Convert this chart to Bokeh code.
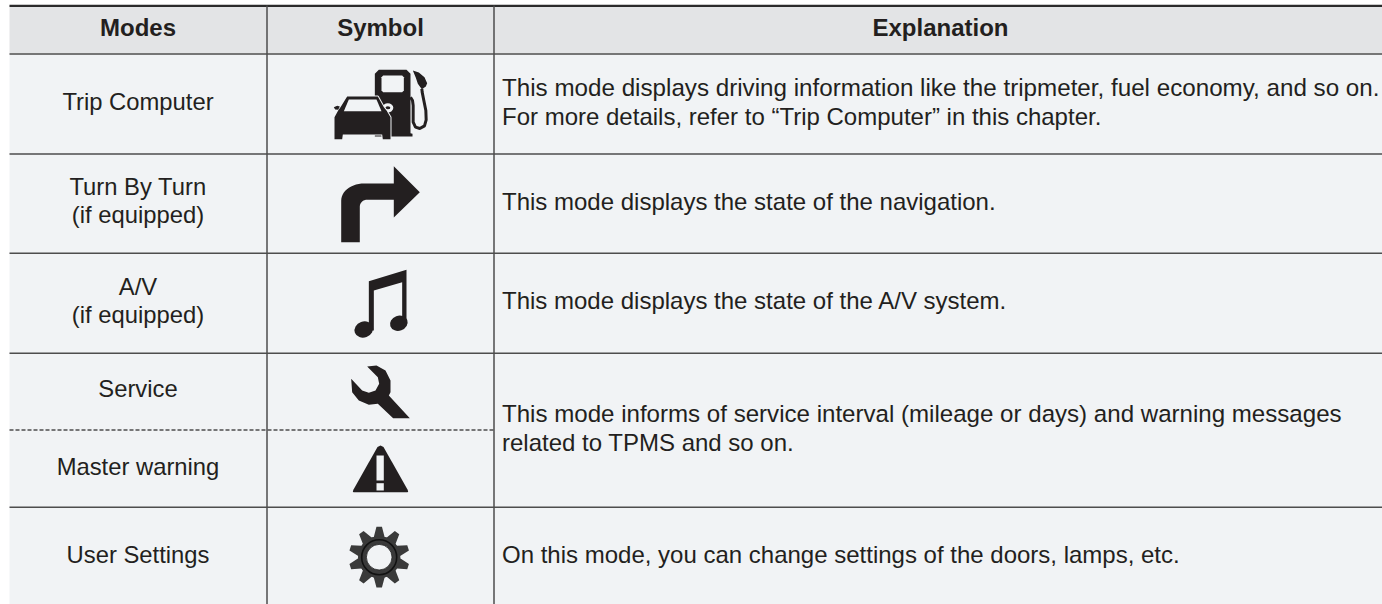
import numpy as np
from bokeh.plotting import figure
from bokeh.models import Range1d
from bokeh.core.properties import value
from bokeh.embed import file_html
from bokeh.resources import INLINE

BODY = "#f1f3f5"
HEAD = "#e3e4e6"
INK = "#231f20"
LINE = "#4d4d4d"
FONT = "Liberation Sans"

headers = ["Modes", "Symbol", "Explanation"]
modes = ["Trip Computer", "Turn By Turn", "(if equipped)", "A/V", "(if equipped)",
         "Service", "Master warning", "User Settings"]
explanations = [
    "This mode displays driving information like the tripmeter, fuel economy, and so on.",
    "For more details, refer to \u201cTrip Computer\u201d in this chapter.",
    "This mode displays the state of the navigation.",
    "This mode displays the state of the A/V system.",
    "This mode informs of service interval (mileage or days) and warning messages",
    "related to TPMS and so on.",
    "On this mode, you can change settings of the doors, lamps, etc.",
]
header_x = [137.5, 380, 940]
header_y = [27] * 3
mode_x = [137.5] * 8
mode_y = [101, 186, 214.3, 286, 314.3, 388.3, 466, 553.7]
expl_y = [87, 116, 201, 300, 412.7, 441.7, 553.7]
expl_size = ["24.2px", "24px", "24px", "24px", "24.1px", "24px", "24px"]

p = figure(width=1382, height=604, output_backend="svg", toolbar_location=None,
           x_range=Range1d(0, 1382), y_range=Range1d(604, 0), min_border=0,
           outline_line_color=None, background_fill_color="white", x_axis_type=None, y_axis_type=None)
p.grid.visible = False

# table background
p.quad(left=9, right=1382, top=5, bottom=53, fill_color=HEAD, line_color=None)
p.quad(left=9, right=1382, top=53, bottom=604, fill_color=BODY, line_color=None)

# rules
p.segment(x0=[9], x1=[493], y0=[429.5], y1=[429.5], line_color=LINE, line_width=1.5, line_dash="4 2")
p.segment(x0=[9], x1=[1382], y0=[5.3], y1=[5.3], line_color="#2b2b2b", line_width=2.2)
p.segment(x0=[9] * 5, x1=[1382] * 5, y0=[53.5, 153.5, 252.8, 352.7, 506.8], y1=[53.5, 153.5, 252.8, 352.7, 506.8],
          line_color=LINE, line_width=1.5)
p.segment(x0=[266.5, 493.5], x1=[266.5, 493.5], y0=[5, 5], y1=[604, 604], line_color=LINE, line_width=1.5)


def z(pts, ox, oy):
    """Zoom-crop coordinates of an icon outline -> page pixels."""
    a = np.array(pts, dtype=float)
    return list(a[:, 0] / 3 + ox), list(a[:, 1] / 3 + oy)


def poly(pts, ox, oy, color=INK, **kw):
    xs, ys = z(pts, ox, oy)
    p.patch(xs, ys, fill_color=color, line_color=kw.pop("line_color", None), **kw)


# --- fuel pump + car
pump = [(223, 40), (235, 28), (318, 28), (330, 40), (330, 218), (336, 220), (336, 228), (223, 228)]
poly(pump, 300, 60)
poly([(243, 50), (248, 45), (305, 45), (310, 50), (310, 90), (305, 95), (248, 95), (243, 90)], 300, 60, BODY)
poly([(337, 30), (355, 36), (372, 50), (380, 68), (376, 78), (364, 86), (352, 70), (346, 52)], 300, 60)
hx, hy = z([(330, 110), (336, 120), (338, 135), (338, 185), (345, 200), (358, 204), (372, 196), (377, 178),
            (376, 150), (370, 120), (365, 95), (364, 85)], 300, 60)
p.line(hx, hy, line_color=INK, line_width=3)
car = [(140, 108), (232, 108), (250, 140), (258, 150), (270, 170), (270, 236), (247, 236), (245, 222), (127, 222),
       (125, 236), (102, 236), (102, 170), (113, 150), (120, 140)]
mx, my = z([(262, 142)], 300, 60)
p.ellipse(mx, my, width=8, height=6, fill_color=BODY, line_color=BODY, line_width=3)
p.ellipse(mx, my, width=5, height=3, fill_color=INK, line_color=None)
poly(car, 300, 60, line_color=BODY, line_width=2)
poly(car, 300, 60)
poly([(145, 117), (228, 117), (243, 152), (130, 152)], 300, 60, BODY)
poly([(100, 140), (110, 136), (118, 138), (113, 148), (104, 147)], 300, 60)

# --- turn arrow
t = np.linspace(0, np.pi / 2, 14)
outer = [(363.7 - 23 * np.cos(a), 200 - 17 * np.sin(a)) for a in t]
inner = [(366.3 - 7 * np.sin(a), 206.3 - 7 * np.cos(a)) for a in t]
ax = [340.7] + [q[0] for q in outer] + [393.3, 393.3, 419.3, 393.3, 393.3] + [q[0] for q in inner] + [359.3]
ay = [241.7] + [q[1] for q in outer] + [183, 165.7, 191.7, 217, 199.3] + [q[1] for q in inner] + [241.7]
p.patch(ax, ay, fill_color=INK, line_color=None)

# --- note
poly([(205, 212), (318, 178), (318, 345), (305, 345), (305, 215), (220, 240), (220, 360), (205, 360)], 300, 210)
p.ellipse([363.3, 398.3], [329, 322.7], width=[19, 18], height=[16, 15], angle=[0.35, 0.35],
          fill_color=INK, line_color=None)

# --- wrench
poly([(200, 78), (228, 75), (255, 90), (270, 120), (270, 155), (265, 165), (328, 233), (278, 233), (232, 190),
      (205, 193), (175, 180), (155, 155), (152, 115), (185, 150), (205, 157), (225, 150), (236, 130), (232, 110)],
     300, 340)

# --- warning triangle
tx = [380, 383, 407, 407.7, 407, 353, 352.3, 353, 377]
ty = [445, 446.5, 489, 491, 491.7, 491.7, 491, 489, 446.5]
p.patch(tx, ty, fill_color=INK, line_color=None)
p.quad(left=[376, 376], right=[383.3, 383.3], top=[455, 482.7], bottom=[480, 490], fill_color=BODY, line_color=None)

# --- gear
n_teeth = 10
gc = (378.7, 556.7)
gx, gy = [], []
for k in range(n_teeth):
    a0 = -np.pi / 2 + k * 2 * np.pi / n_teeth
    for da, r in [(-0.26, 21), (-0.09, 30.5), (0.09, 30.5), (0.26, 21)]:
        gx.append(gc[0] + r * np.cos(a0 + da))
        gy.append(gc[1] + r * np.sin(a0 + da))
p.patch(gx, gy, fill_color="#3a3a3a", line_color=None)
p.circle([gc[0]], [gc[1]], radius=21, fill_color="#3a3a3a", line_color=None)
p.circle([gc[0]], [gc[1]], radius=17.5, fill_color=None, line_color="#111111", line_width=1.6)
p.circle([gc[0]], [gc[1]], radius=12.8, fill_color=BODY, line_color="#222222", line_width=0.8)

# --- text
p.text(header_x, header_y, text=headers, text_align="center", text_baseline="middle", text_color=INK,
       text_font=value(FONT), text_font_style="bold", text_font_size="24px")
p.text(mode_x, mode_y, text=modes, text_align="center", text_baseline="middle", text_color=INK,
       text_font=value(FONT), text_font_size="23.8px")
for line, y, size in zip(explanations, expl_y, expl_size):
    p.text([501.5], [y], text=[line], text_align="left", text_baseline="middle",
           text_color=INK, text_font=value(FONT), text_font_size=size)

open("out.html", "w").write(file_html(p, INLINE))
